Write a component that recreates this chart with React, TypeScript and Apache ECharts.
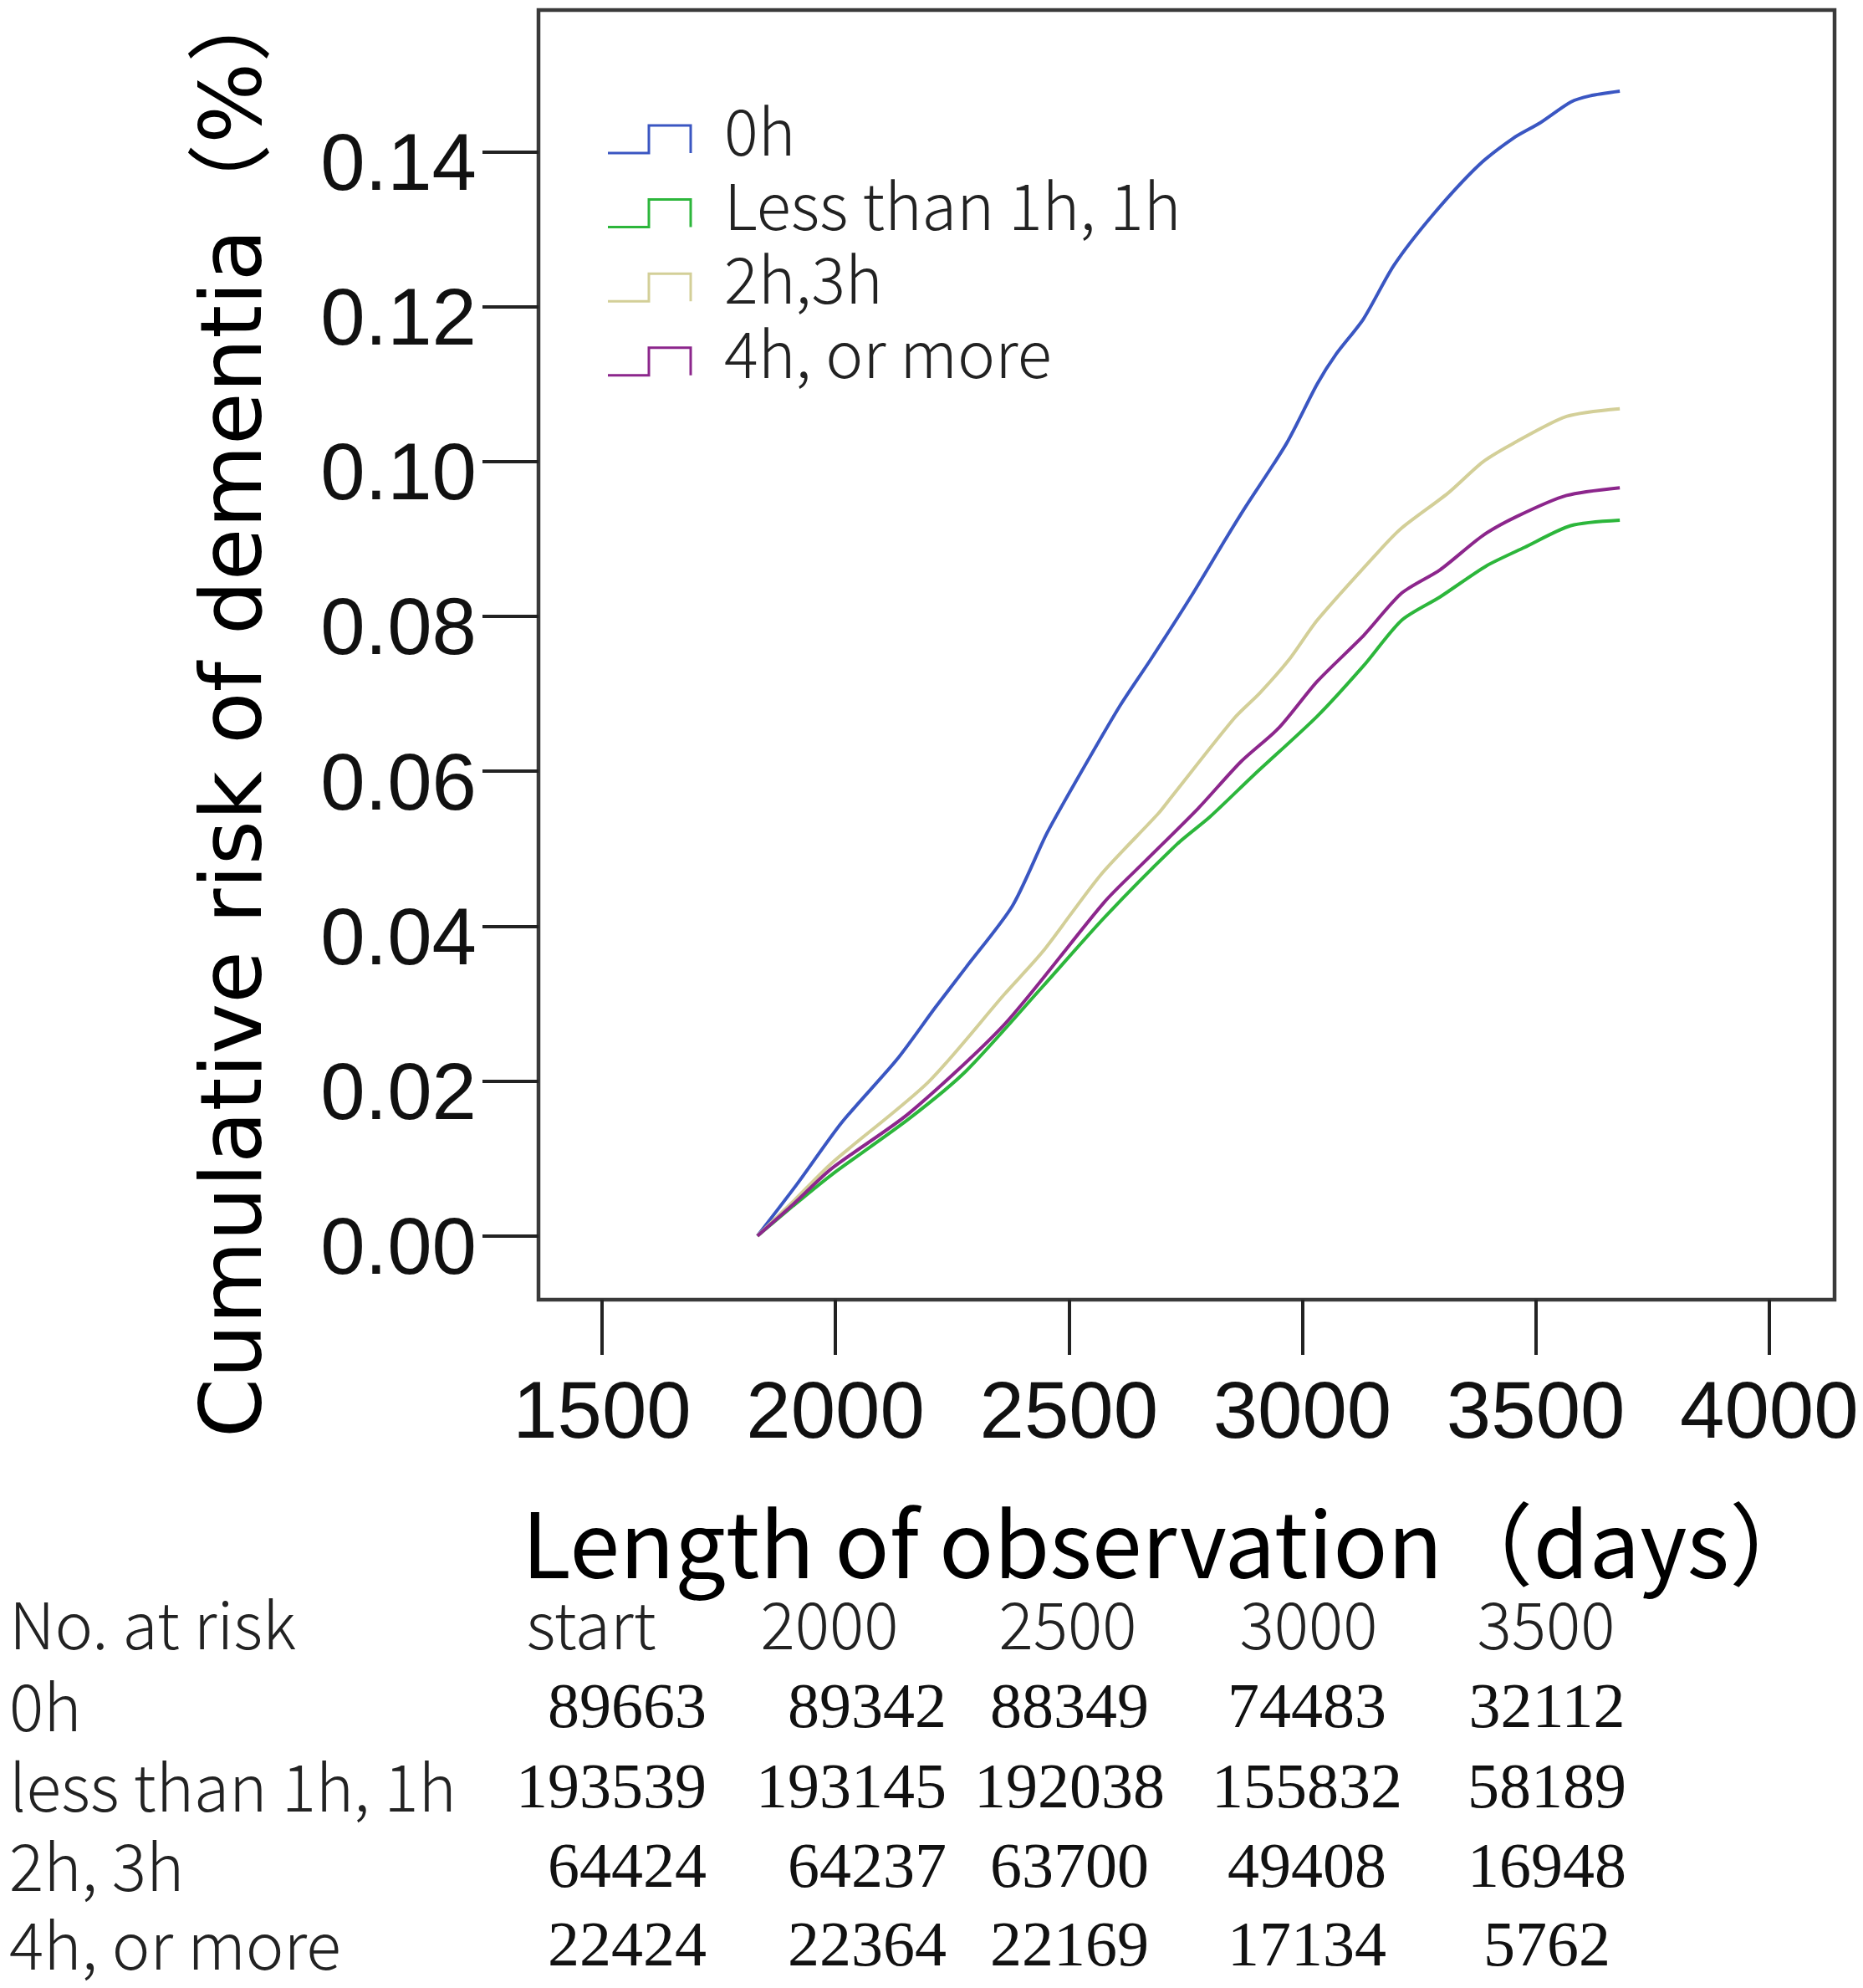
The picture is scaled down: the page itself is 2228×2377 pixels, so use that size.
import React, { useEffect, useRef } from "react";
import * as echarts from "echarts";

const W = 2228;
const H = 2377;

const seriesNames = ["0h", "Less than 1h, 1h", "2h,3h", "4h, or more"];
const seriesColors = ["#3a56c2", "#2cb63b", "#d3cf98", "#8c268c"];

const days0h = [1833, 1918, 2013, 2132, 2214, 2280, 2379, 2453, 2518, 2609, 2675, 2761, 2835, 2876, 2966, 3032, 3073, 3131, 3196, 3279, 3377, 3451, 3509, 3575, 3616, 3680];
const risk0h = [0, 0.0067, 0.0146, 0.0228, 0.0295, 0.0347, 0.0426, 0.052, 0.059, 0.0684, 0.0744, 0.0825, 0.0899, 0.0939, 0.1023, 0.11, 0.1139, 0.1184, 0.1253, 0.1318, 0.1382, 0.1417, 0.1437, 0.1464, 0.1472, 0.1478];

const days1h = [1833, 1910, 1992, 2157, 2280, 2444, 2576, 2732, 2802, 2896, 3032, 3131, 3213, 3295, 3394, 3476, 3575, 3680];
const risk1h = [0, 0.0039, 0.0079, 0.0151, 0.0213, 0.0322, 0.0411, 0.0506, 0.0541, 0.0595, 0.0671, 0.0736, 0.0795, 0.0825, 0.0865, 0.0889, 0.0917, 0.0924];

const days23h = [1833, 1912, 1992, 2198, 2362, 2444, 2568, 2691, 2720, 2855, 2909, 2974, 3032, 3164, 3213, 3312, 3386, 3451, 3566, 3680];
const risk23h = [0, 0.0046, 0.0094, 0.0198, 0.0312, 0.0367, 0.0466, 0.0545, 0.0567, 0.0669, 0.0701, 0.0746, 0.0795, 0.0884, 0.0914, 0.0959, 0.0999, 0.1023, 0.1058, 0.1068];

const days4h = [1833, 1910, 1992, 2157, 2362, 2576, 2662, 2777, 2868, 2950, 3032, 3131, 3213, 3295, 3386, 3460, 3566, 3680];
const risk4h = [0, 0.0041, 0.0087, 0.0158, 0.0273, 0.0431, 0.0483, 0.0552, 0.0612, 0.0656, 0.0716, 0.0775, 0.083, 0.086, 0.0904, 0.0929, 0.0956, 0.0966];

const xTicks = [1500, 2000, 2500, 3000, 3500, 4000];
const yTicks = [0, 0.02, 0.04, 0.06, 0.08, 0.1, 0.12, 0.14];

const yTitle = "Cumulative risk of dementia（%）";
const xTitle = "Length of observation（days）";

const tableTitle = "No. at risk";
const tableHeader = ["start", "2000", "2500", "3000", "3500"];
const tableRowLabels = ["0h", "less than 1h, 1h", "2h, 3h", "4h, or more"];
const atRisk0h = [89663, 89342, 88349, 74483, 32112];
const atRisk1h = [193539, 193145, 192038, 155832, 58189];
const atRisk23h = [64424, 64237, 63700, 49408, 16948];
const atRisk4h = [22424, 22364, 22169, 17134, 5762];

const GOTHIC = '"Noto Sans CJK JP", "Noto Sans", sans-serif';

function zip(xs: number[], ys: number[]) {
  return xs.map((x, i) => [x, ys[i]]);
}

export default function App() {
  const ref = useRef<HTMLDivElement>(null);

  useEffect(() => {
    document.body.style.margin = "0";
    if (!ref.current) return;
    const chart = echarts.init(ref.current, undefined, { renderer: "svg" });

    const allDays = [days0h, days1h, days23h, days4h];
    const allRisk = [risk0h, risk1h, risk23h, risk4h];

    const series = seriesNames.map((name, i) => ({
      name,
      type: "line",
      data: zip(allDays[i], allRisk[i]),
      showSymbol: false,
      symbol: "none",
      smooth: 0.25,
      lineStyle: { color: seriesColors[i], width: 4 },
      itemStyle: { color: seriesColors[i] },
      z: 3 + i,
    }));

    const graphics: any[] = [];

    // legend (inside plot)
    const iconCenters = [159, 247.6, 336.2, 424.8];
    seriesNames.forEach((name, i) => {
      const c = iconCenters[i];
      graphics.push({
        type: "polyline",
        shape: {
          points: [
            [727, c + 24],
            [776, c + 24],
            [776, c - 9],
            [826, c - 9],
            [826, c + 24],
          ],
        },
        style: { stroke: seriesColors[i], lineWidth: 3, fill: "none" },
        z: 10,
      });
      graphics.push({
        type: "text",
        x: 866,
        y: c - 6,
        style: {
          text: name,
          fontSize: 76,
          lineHeight: 80,
          fontFamily: GOTHIC,
          fontWeight: 300,
          fill: "#222",
          align: "left",
          verticalAlign: "middle",
        },
        z: 10,
      });
    });

    // axis titles
    graphics.push({
      type: "text",
      x: 276,
      y: 846,
      rotation: Math.PI / 2,
      style: {
        text: yTitle,
        fontSize: 102,
        lineHeight: 104,
        fontFamily: '"DejaVu Sans", "Noto Sans CJK JP", sans-serif',
        fill: "#000",
        align: "center",
        verticalAlign: "middle",
      },
    });
    graphics.push({
      type: "text",
      x: 1400,
      y: 1840,
      style: {
        text: xTitle,
        fontSize: 108,
        lineHeight: 100,
        fontFamily: GOTHIC,
        fill: "#000",
        align: "center",
        verticalAlign: "middle",
      },
    });

    // at-risk table
    const headerY = 1938;
    const rowYs = [2036, 2132, 2227, 2321];
    const numYs = [2039, 2135, 2230, 2324];
    const headerX = [707, 992, 1277, 1565, 1849];
    const colAnchor = [845, 1132, 1279, 1563, 1850];
    const colAlign = ["right", "right", "center", "center", "center"];
    const gothicStyle = { fontSize: 77, lineHeight: 76, fontFamily: GOTHIC, fontWeight: 300, fill: "#222", verticalAlign: "middle" };
    graphics.push({
      type: "text",
      x: 11,
      y: headerY,
      style: { ...gothicStyle, text: tableTitle, align: "left" },
    });
    tableHeader.forEach((h, j) => {
      graphics.push({
        type: "text",
        x: headerX[j],
        y: headerY,
        style: { ...gothicStyle, text: h, align: "center" },
      });
    });
    const rows = [atRisk0h, atRisk1h, atRisk23h, atRisk4h];
    tableRowLabels.forEach((lab, r) => {
      graphics.push({
        type: "text",
        x: 11,
        y: rowYs[r],
        style: { ...gothicStyle, text: lab, align: "left" },
      });
      rows[r].forEach((v, j) => {
        graphics.push({
          type: "text",
          x: colAnchor[j],
          y: numYs[r],
          style: {
            text: String(v),
            fontSize: 76,
            lineHeight: 76,
            fontFamily: '"Liberation Serif", "Times New Roman", serif',
            fill: "#111",
            align: colAlign[j],
            verticalAlign: "middle",
          },
        });
      });
    });

    const option: any = {
      animation: false,
      backgroundColor: "#fff",
      grid: {
        left: 644,
        top: 12,
        width: 1550,
        height: 1542,
        show: true,
        borderColor: "#3a3a3a",
        borderWidth: 4.5,
        backgroundColor: "transparent",
        containLabel: false,
      },
      xAxis: {
        type: "value",
        min: 1364,
        max: 4140,
        axisLine: { show: false, onZero: false },
        splitLine: { show: false },
        axisTick: {
          show: true,
          length: 66,
          inside: false,
          customValues: xTicks,
          lineStyle: { color: "#222", width: 4 },
        },
        axisLabel: {
          show: true,
          customValues: xTicks,
          margin: 83,
          fontSize: 96,
          color: "#111",
          fontFamily: '"Liberation Sans", Arial, sans-serif',
          formatter: (v: number) => String(v),
        },
      },
      yAxis: {
        type: "value",
        min: -0.00824,
        max: 0.15828,
        axisLine: { show: false, onZero: false },
        splitLine: { show: false },
        axisTick: {
          show: true,
          length: 67,
          inside: false,
          customValues: yTicks,
          lineStyle: { color: "#222", width: 4 },
        },
        axisLabel: {
          show: true,
          customValues: yTicks,
          margin: 74,
          fontSize: 96,
          lineHeight: 24,
          verticalAlign: "top",
          color: "#111",
          fontFamily: '"Liberation Sans", Arial, sans-serif',
          formatter: (v: number) => v.toFixed(2),
        },
      },
      series,
      graphic: graphics,
    };

    chart.setOption(option);
    return () => chart.dispose();
  }, []);

  return <div ref={ref} style={{ width: W, height: H }} />;
}
